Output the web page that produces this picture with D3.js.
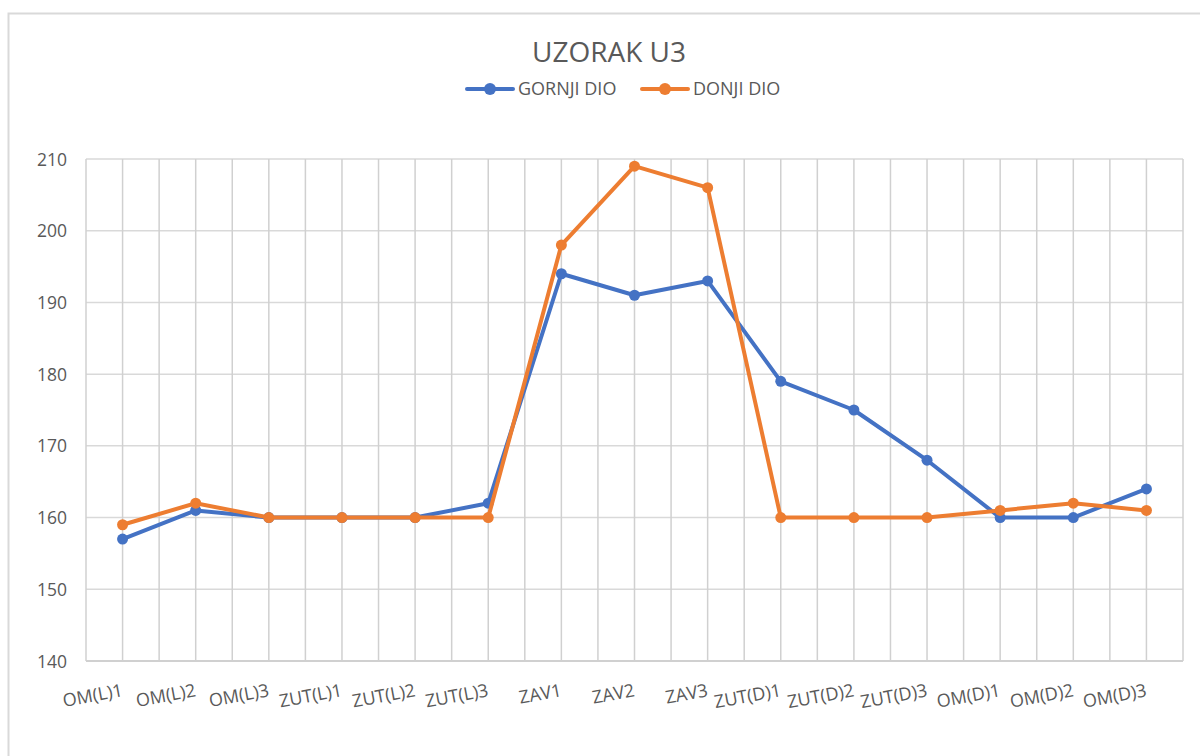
<!DOCTYPE html>
<html><head><meta charset="utf-8">
<script src="https://cdn.jsdelivr.net/npm/d3@7"></script>
<style>body{margin:0;background:#fff}svg{display:block}text{font-family:"Open Sans",sans-serif;fill:#595959}</style>
</head><body><svg id="c" width="1200" height="756"></svg>
<script>
const categories = ["OM(L)1","OM(L)2","OM(L)3","ZUT(L)1","ZUT(L)2","ZUT(L)3","ZAV1","ZAV2","ZAV3","ZUT(D)1","ZUT(D)2","ZUT(D)3","OM(D)1","OM(D)2","OM(D)3"];
const gornjiDio = [157,161,160,160,160,162,194,191,193,179,175,168,160,160,164];
const donjiDio  = [159,162,160,160,160,160,198,209,206,160,160,160,161,162,161];
const yTicks = [140,150,160,170,180,190,200,210];
const seriesNames = ["GORNJI DIO","DONJI DIO"];
const colors = ["#4472C4","#ED7D31"];

const svg = d3.select("#c");
const L = 86, R = 1183, T = 159, B = 661;
svg.append("rect").attr("x",8.5).attr("y",13.5).attr("width",1210).attr("height",760)
  .attr("fill","none").attr("stroke","#d9d9d9").attr("stroke-width",2);

const x = d3.scaleBand().domain(categories).range([L,R]).padding(0);
const y = d3.scaleLinear().domain([140,210]).range([B,T]);

svg.append("g").selectAll("line").data(yTicks).join("line")
  .attr("x1",L).attr("x2",R).attr("y1",d=>y(d)).attr("y2",d=>y(d))
  .attr("stroke","#d9d9d9").attr("stroke-width",1.5);
const vx = [];
categories.forEach(c=>{vx.push(x(c)); vx.push(x(c)+x.bandwidth()/2);});
vx.push(R);
svg.append("g").selectAll("line").data(vx).join("line")
  .attr("x1",d=>d).attr("x2",d=>d).attr("y1",T).attr("y2",B)
  .attr("stroke","#d0d0d0").attr("stroke-width",1.5);
svg.append("line").attr("x1",L).attr("x2",R).attr("y1",B).attr("y2",B).attr("stroke","#d0d0d0").attr("stroke-width",2);

const yAxis = d3.axisLeft(y).tickValues(yTicks).tickSize(0).tickPadding(0);
const gy = svg.append("g").attr("transform",`translate(67,0)`).call(yAxis);
gy.select(".domain").remove();
gy.selectAll("text").style("font-size","17.5px").style("fill","#595959").style("font-family","'Open Sans',sans-serif").attr("dy","0.35em");

const xAxis = d3.axisBottom(x).tickSize(0).tickPadding(0);
const gx = svg.append("g").attr("transform",`translate(0,${B})`).call(xAxis);
gx.select(".domain").remove();
gx.selectAll("text").style("font-size","18px").style("fill","#595959").style("font-family","'Open Sans',sans-serif")
  .attr("text-anchor","end").attr("dy",0).attr("y",0)
  .attr("transform",`translate(1,35) rotate(-10.5)`);

const cx = c => x(c)+x.bandwidth()/2;
[gornjiDio, donjiDio].forEach((vals,i)=>{
  const pts = vals.map((v,j)=>[cx(categories[j]), y(v)]);
  svg.append("path").attr("d",d3.line()(pts)).attr("fill","none")
    .attr("stroke",colors[i]).attr("stroke-width",4).attr("stroke-linejoin","round").attr("stroke-linecap","round");
  svg.append("g").selectAll("circle").data(pts).join("circle")
    .attr("cx",d=>d[0]).attr("cy",d=>d[1]).attr("r",5.5).attr("fill",colors[i]);
});

svg.append("text").attr("x",609).attr("y",62).attr("text-anchor","middle")
  .style("font-size","28px").text("UZORAK U3");

const leg = [{x:467,tx:518},{x:642,tx:693}];
seriesNames.forEach((n,i)=>{
  const g = svg.append("g");
  g.append("line").attr("x1",leg[i].x).attr("x2",leg[i].x+46).attr("y1",89).attr("y2",89)
    .attr("stroke",colors[i]).attr("stroke-width",4).attr("stroke-linecap","round");
  g.append("circle").attr("cx",leg[i].x+23).attr("cy",89).attr("r",6).attr("fill",colors[i]);
  g.append("text").attr("x",leg[i].tx).attr("y",95).style("font-size","18px").text(n);
});
</script></body></html>
